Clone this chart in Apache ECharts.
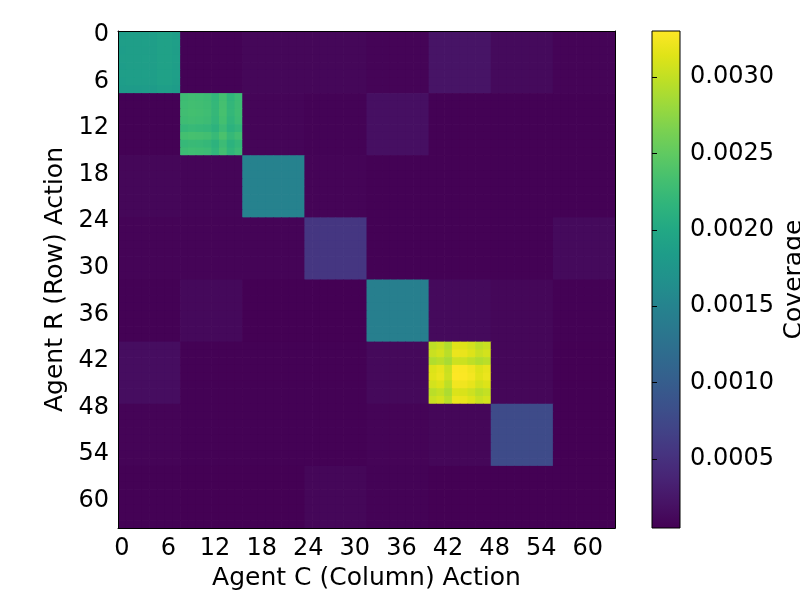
<!DOCTYPE html>
<html><head><meta charset="utf-8">
<script src="https://cdn.jsdelivr.net/npm/echarts@6/dist/echarts.min.js"></script>
<style>html,body{margin:0;padding:0;background:#fff}#c{width:800px;height:600px}</style>
</head><body><div id="c"></div>
<script>
// Action indices 0..63 for both agents
const actions = Array.from({length: 64}, (_, i) => String(i));
const tickLabels = ['0','6','12','18','24','30','36','42','48','54','60'];
const colorbarTicks = [0.0005, 0.0010, 0.0015, 0.0020, 0.0025, 0.0030];
const colorMin = 0.00005, colorMax = 0.0033;

// Mean coverage of each 8x8 block (row block = Agent R, column block = Agent C)
const blockMeans = [
  [18.7e-4, 0.7e-4, 1.0e-4, 1.0e-4, 0.8e-4, 2.2e-4, 1.3e-4, 0.8e-4],
  [0.6e-4, 22.6e-4, 0.9e-4, 0.7e-4, 1.8e-4, 0.6e-4, 0.6e-4, 0.6e-4],
  [1.0e-4, 0.9e-4, 14.8e-4, 0.8e-4, 0.6e-4, 0.6e-4, 0.6e-4, 0.6e-4],
  [0.8e-4, 0.8e-4, 0.8e-4, 5.6e-4, 0.6e-4, 0.6e-4, 0.6e-4, 1.3e-4],
  [0.6e-4, 1.2e-4, 0.5e-4, 0.5e-4, 14.5e-4, 1.3e-4, 1.0e-4, 0.6e-4],
  [1.6e-4, 0.6e-4, 0.6e-4, 0.6e-4, 1.2e-4, 31.0e-4, 1.0e-4, 0.5e-4],
  [0.8e-4, 0.6e-4, 0.6e-4, 0.6e-4, 0.8e-4, 1.0e-4, 7.8e-4, 0.5e-4],
  [0.6e-4, 0.5e-4, 0.5e-4, 1.0e-4, 0.7e-4, 0.5e-4, 0.5e-4, 0.5e-4]
];

// Cell-level values inside the diagonal blocks that show visible structure
const blockR0C0 = [
  [18.5e-4, 18.6e-4, 18.6e-4, 18.7e-4, 18.6e-4, 19.0e-4, 19.0e-4, 18.7e-4],
  [18.6e-4, 18.7e-4, 18.7e-4, 18.8e-4, 18.7e-4, 19.1e-4, 19.1e-4, 18.8e-4],
  [18.5e-4, 18.6e-4, 18.6e-4, 18.7e-4, 18.6e-4, 19.0e-4, 19.0e-4, 18.7e-4],
  [18.6e-4, 18.7e-4, 18.7e-4, 18.8e-4, 18.7e-4, 19.1e-4, 19.1e-4, 18.8e-4],
  [18.5e-4, 18.6e-4, 18.6e-4, 18.7e-4, 18.6e-4, 19.0e-4, 19.0e-4, 18.7e-4],
  [18.6e-4, 18.7e-4, 18.7e-4, 18.8e-4, 18.7e-4, 19.1e-4, 19.1e-4, 18.8e-4],
  [18.5e-4, 18.6e-4, 18.6e-4, 18.7e-4, 18.6e-4, 19.0e-4, 19.0e-4, 18.7e-4],
  [18.2e-4, 18.3e-4, 18.3e-4, 18.4e-4, 18.3e-4, 18.7e-4, 18.7e-4, 18.4e-4]
];
const blockR1C1 = [
  [22.8e-4, 23.0e-4, 22.9e-4, 22.7e-4, 21.9e-4, 23.2e-4, 21.8e-4, 22.6e-4],
  [22.9e-4, 23.1e-4, 23.0e-4, 22.8e-4, 22.0e-4, 23.3e-4, 21.9e-4, 22.7e-4],
  [23.0e-4, 23.2e-4, 23.1e-4, 22.9e-4, 22.1e-4, 23.4e-4, 22.0e-4, 22.8e-4],
  [22.8e-4, 23.0e-4, 22.9e-4, 22.7e-4, 21.9e-4, 23.2e-4, 21.8e-4, 22.6e-4],
  [22.1e-4, 22.3e-4, 22.2e-4, 22.0e-4, 21.4e-4, 22.6e-4, 21.3e-4, 21.9e-4],
  [23.2e-4, 23.4e-4, 23.3e-4, 23.1e-4, 22.3e-4, 23.6e-4, 22.2e-4, 23.0e-4],
  [22.2e-4, 22.4e-4, 22.3e-4, 22.1e-4, 21.4e-4, 22.6e-4, 21.3e-4, 22.0e-4],
  [22.7e-4, 22.9e-4, 22.8e-4, 22.6e-4, 21.8e-4, 23.1e-4, 21.7e-4, 22.5e-4]
];
const blockR5C5 = [
  [29.8e-4, 30.3e-4, 29.2e-4, 31.5e-4, 31.4e-4, 30.8e-4, 29.8e-4, 30.3e-4],
  [30.3e-4, 30.8e-4, 29.6e-4, 32.0e-4, 31.9e-4, 31.3e-4, 30.3e-4, 30.8e-4],
  [29.2e-4, 29.6e-4, 28.8e-4, 30.5e-4, 30.4e-4, 29.8e-4, 29.2e-4, 29.6e-4],
  [31.3e-4, 31.8e-4, 30.3e-4, 32.9e-4, 32.8e-4, 32.3e-4, 31.3e-4, 31.8e-4],
  [31.5e-4, 32.0e-4, 30.5e-4, 33.0e-4, 32.9e-4, 32.5e-4, 31.5e-4, 32.0e-4],
  [30.8e-4, 31.3e-4, 29.8e-4, 32.4e-4, 32.3e-4, 31.8e-4, 30.8e-4, 31.3e-4],
  [29.6e-4, 30.1e-4, 29.0e-4, 31.2e-4, 31.1e-4, 30.5e-4, 29.6e-4, 30.1e-4],
  [30.3e-4, 30.8e-4, 29.6e-4, 32.0e-4, 31.9e-4, 31.3e-4, 30.3e-4, 30.8e-4]
];
const detailBlocks = {'0,0': blockR0C0, '1,1': blockR1C1, '5,5': blockR5C5};

const viridis = ['#440154','#471365','#482475','#463480','#414487','#3b528b','#355f8d','#2f6c8e','#2a788e','#25848e','#21918c','#1e9c89','#22a884','#2fb47c','#44bf70','#5ec962','#7ad151','#9bd93c','#bddf26','#dfe318','#fde725'];

const cells = [];
for (let r = 0; r < actions.length; r++) {
  for (let c = 0; c < actions.length; c++) {
    const br = Math.floor(r / 8), bc = Math.floor(c / 8);
    const det = detailBlocks[br + ',' + bc];
    const v = det ? det[r % 8][c % 8] : blockMeans[br][bc];
    cells.push([c, r, v]);
  }
}

const FONT = 'DejaVu Sans';
const black = '#000';
const chart = echarts.init(document.getElementById('c'), null, {renderer: 'canvas'});
const catLabel = {
  interval: 5, fontSize: 24, fontFamily: FONT, color: black, margin: 9,
  formatter: (v) => tickLabels.includes(v) ? v : ''
};
const catTick = {interval: 5, alignWithLabel: true, length: 5, lineStyle: {color: black, width: 1}};
const cbStops = viridis.map((col, i) => ({offset: i / (viridis.length - 1), color: col}));
const nameStyle = {fontSize: 25, fontFamily: FONT, color: black};

chart.setOption({
  animation: false,
  backgroundColor: '#fff',
  grid: [
    {left: 118, top: 31, width: 497, height: 497, show: false, outerBoundsMode: 'none', containLabel: false},
    {left: 652, top: 31, width: 28, height: 497, show: true, borderColor: black, borderWidth: 1,
     backgroundColor: 'transparent', z: 10, outerBoundsMode: 'none', containLabel: false}
  ],
  graphic: [{
    type: 'rect', z: 1, silent: true,
    shape: {x: 652, y: 31, width: 28, height: 497},
    style: {fill: new echarts.graphic.LinearGradient(0, 1, 0, 0, cbStops)}
  }],
  xAxis: [
    {type: 'category', gridIndex: 0, data: actions, position: 'bottom', z: 5,
     name: 'Agent C (Column) Action', nameLocation: 'middle', nameGap: 36,
     nameTextStyle: nameStyle,
     axisLine: {show: true, lineStyle: {color: black, width: 1}},
     axisTick: catTick, axisLabel: catLabel, splitLine: {show: false}},
    {type: 'category', gridIndex: 0, data: actions, position: 'top', z: 5,
     axisLine: {show: true, lineStyle: {color: black, width: 1}},
     axisTick: {show: false}, axisLabel: {show: false}},
    {type: 'value', gridIndex: 1, min: 0, max: 1, show: false}
  ],
  yAxis: [
    {type: 'category', gridIndex: 0, data: actions, inverse: true, position: 'left', z: 5,
     name: 'Agent R (Row) Action', nameLocation: 'middle', nameGap: 50,
     nameTextStyle: nameStyle,
     axisLine: {show: true, lineStyle: {color: black, width: 1}},
     axisTick: catTick, axisLabel: catLabel, splitLine: {show: false}},
    {type: 'category', gridIndex: 0, data: actions, inverse: true, position: 'right', z: 5,
     axisLine: {show: true, lineStyle: {color: black, width: 1}},
     axisTick: {show: false}, axisLabel: {show: false}},
    {type: 'value', gridIndex: 1, min: colorMin, max: colorMax, position: 'right', z: 11,
     name: 'Coverage', nameLocation: 'middle', nameGap: 102, nameRotate: 90,
     nameTextStyle: nameStyle,
     axisLine: {show: false},
     splitLine: {show: false},
     axisTick: {show: true, customValues: colorbarTicks, length: 5, lineStyle: {color: black}},
     axisLabel: {show: true, customValues: colorbarTicks, fontSize: 24, fontFamily: FONT, color: black, margin: 10,
                 formatter: (v) => v.toFixed(4)}}
  ],
  visualMap: {
    type: 'continuous', seriesIndex: 0, dimension: 2,
    min: colorMin, max: colorMax, show: false,
    inRange: {color: viridis}
  },
  series: [
    {type: 'custom', xAxisIndex: 0, yAxisIndex: 0, data: cells, clip: true,
     encode: {x: 0, y: 1},
     renderItem: function (params, api) {
       const p = api.coord([api.value(0), api.value(1)]);
       const s = api.size([1, 1]);
       return {
         type: 'rect',
         shape: {x: p[0] - s[0] / 2, y: p[1] - s[1] / 2, width: s[0] + 0.7, height: s[1] + 0.7},
         style: {fill: api.visual('color'), stroke: null}
       };
     },
     silent: true},
    {type: 'line', xAxisIndex: 2, yAxisIndex: 2, data: [], silent: true}
  ]
});
</script></body></html>
